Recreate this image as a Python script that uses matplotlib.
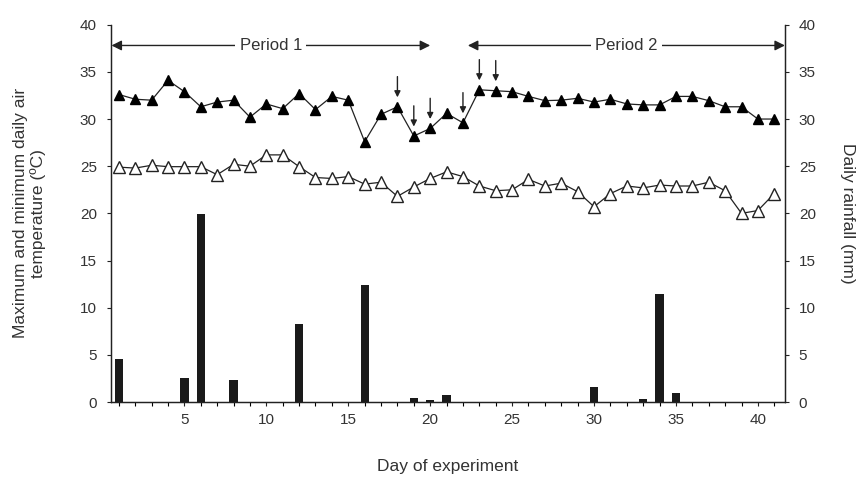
import numpy as np
import matplotlib
matplotlib.use("Agg")
import matplotlib.pyplot as plt

plt.rcParams['font.family'] = ['Liberation Sans', 'DejaVu Sans']

# data
days = list(range(1, 42))
t_max = [32.6, 32.1, 32.0, 34.1, 32.9, 31.3, 31.8, 32.0, 30.2, 31.6,
         31.1, 32.7, 31.0, 32.4, 32.0, 27.6, 30.5, 31.3, 28.2, 29.0,
         30.6, 29.6, 33.1, 33.0, 32.9, 32.4, 31.95, 32.0, 32.2, 31.8,
         32.1, 31.6, 31.5, 31.5, 32.4, 32.4, 31.95, 31.3, 31.3, 30.0, 30.0]
t_min = [24.9, 24.8, 25.1, 24.95, 24.95, 24.95, 24.1, 25.2, 25.0, 26.2,
         26.2, 24.95, 23.8, 23.7, 23.9, 23.1, 23.3, 21.8, 22.8, 23.7,
         24.4, 23.9, 22.9, 22.4, 22.5, 23.6, 22.9, 23.2, 22.3, 20.7,
         22.1, 22.9, 22.7, 23.0, 22.9, 22.9, 23.3, 22.4, 20.0, 20.3, 22.1]
rain_days = [1, 5, 6, 8, 12, 16, 19, 20, 21, 30, 33, 34, 35]
rain_mm = [4.6, 2.5, 19.9, 2.3, 8.3, 12.4, 0.4, 0.2, 0.7, 1.6, 0.35, 11.4, 1.0]
arrow_days = [18, 19, 20, 22, 23, 24]
periods = [("Period 1", 0.55, 20.0), ("Period 2", 22.3, 41.65)]
period_y = 37.8

ink = '#222222'
fig = plt.figure(figsize=(8.6, 4.8), dpi=100)
ax = fig.add_axes([0.1287, 0.1625, 0.784, 0.786])
ax2 = ax.twinx()

ax2.bar(rain_days, rain_mm, width=0.5, color='#1a1a1a', zorder=2)

ax.plot(days, t_max, '-', color=ink, lw=0.9, marker='^', ms=7,
        mfc='black', mec='black', zorder=3)
ax.plot(days, t_min, '-', color=ink, lw=0.9, marker='^', ms=8,
        mfc='white', mec=ink, mew=1.0, zorder=3)

# arrows over selected days
for d in arrow_days:
    v = t_max[d - 1]
    ax.annotate('', xy=(d, v + 1.0), xytext=(d, v + 3.2),
                arrowprops=dict(arrowstyle='-|>', color=ink, lw=1.0,
                                mutation_scale=9, shrinkA=0, shrinkB=0))

# period arrows
for label, x0, x1 in periods:
    ax.annotate('', xy=(x0, period_y), xytext=(x1, period_y),
                arrowprops=dict(arrowstyle='<|-|>', color=ink, lw=1.0,
                                mutation_scale=15, shrinkA=0, shrinkB=0),
                annotation_clip=False)
    ax.text((x0 + x1) / 2, period_y, label, ha='center', va='center',
            fontsize=12, color='#333333',
            bbox=dict(facecolor='white', edgecolor='none', pad=3))

for a in (ax, ax2):
    a.set_xlim(0.5, 41.65)
    a.set_ylim(0, 40)
    a.set_yticks(range(0, 41, 5))
    a.spines['top'].set_visible(False)
    for s in a.spines.values():
        s.set_color(ink)
        s.set_linewidth(0.9)
    a.tick_params(colors=ink, labelcolor='#333333', labelsize=11,
                  length=3, width=0.8, pad=7)

ax.set_xticks(days, minor=True)
ax.set_xticks([5, 10, 15, 20, 25, 30, 35, 40])
ax.tick_params(axis='x', which='both', length=3, width=0.8, pad=5)

ax.set_xlabel("Day of experiment", fontsize=12.5, color='#333333', labelpad=23)
ax.set_ylabel("Maximum and minimum daily air\ntemperature (ºC)",
              fontsize=12.5, color='#333333', labelpad=24)
ax2.set_ylabel("Daily rainfall (mm)", fontsize=12.5, color='#333333',
               rotation=-90, labelpad=28)

fig.savefig("out.png", dpi=100)
